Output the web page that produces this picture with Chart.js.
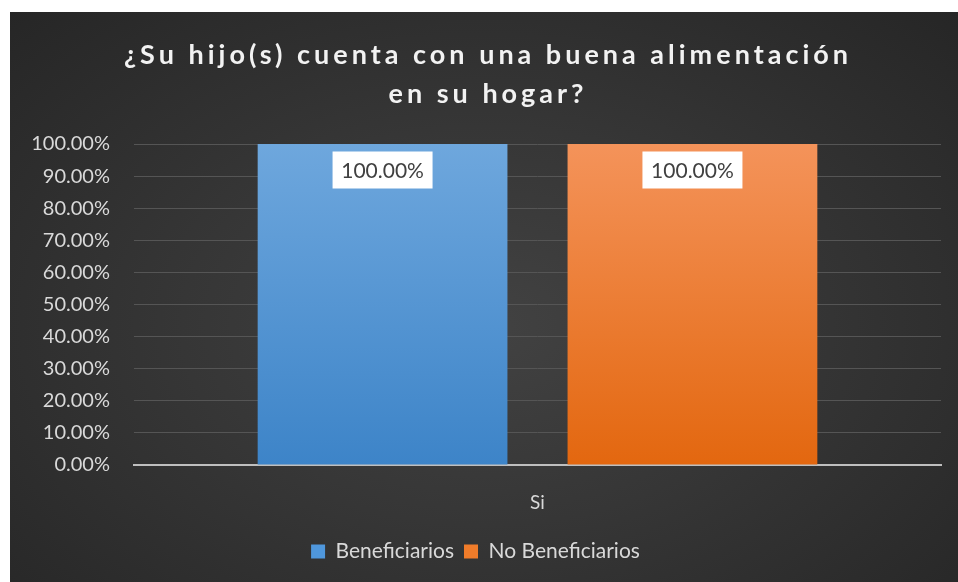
<!DOCTYPE html>
<html>
<head>
<meta charset="utf-8">
<script src="https://cdn.jsdelivr.net/npm/chart.js@4"></script>
<style>
  html,body{margin:0;padding:0;background:#fff;}
  #wrap{
    position:absolute; left:10px; top:12px; width:948px; height:570px;
    background: radial-gradient(ellipse at 50% 55%, #424242 0%, #363636 45%, #262626 100%);
  }
  #title{
    position:absolute; left:4px; top:22px; width:100%;
    text-align:center; color:#f2f2f2;
    font:700 27px "Lato", sans-serif; letter-spacing:4px; line-height:39px;
  }
  canvas{position:absolute; left:0; top:0;}
</style>
</head>
<body>
<div id="wrap">
  <canvas id="c" width="948" height="570"></canvas>
  <div id="title">¿Su hijo(s) cuenta con una buena alimentación<br>en su hogar?</div>
</div>
<script>
const categories = ["Si"];
const seriesNames = ["Beneficiarios", "No Beneficiarios"];
const beneficiarios = [100];
const noBeneficiarios = [100];
const yTicks = [0,10,20,30,40,50,60,70,80,90,100];

// gradient fill for bars, top -> bottom
function grad(top, bottom){
  return (ctx)=>{
    const area = ctx.chart.chartArea;
    if(!area) return bottom;
    const g = ctx.chart.ctx.createLinearGradient(0, area.top, 0, area.bottom);
    g.addColorStop(0, top);
    g.addColorStop(1, bottom);
    return g;
  };
}

// white boxed data labels near top of each bar
const boxLabels = {
  id:"boxLabels",
  afterDatasetsDraw(chart){
    const c = chart.ctx;
    c.save();
    c.font = '21px "Lato", sans-serif';
    c.textAlign = "center";
    c.textBaseline = "middle";
    chart.data.datasets.forEach((ds,i)=>{
      chart.getDatasetMeta(i).data.forEach((bar,j)=>{
        const txt = ds.data[j].toFixed(2) + "%";
        const cx = bar.x, cy = bar.y + 26;
        c.fillStyle = "#ffffff";
        c.fillRect(cx-50, cy-18.5, 100, 37);
        c.fillStyle = "#404040";
        c.fillText(txt, cx, cy+1);
      });
    });
    c.restore();
  }
};

new Chart(document.getElementById("c"), {
  type:"bar",
  data:{
    labels:categories,
    datasets:[
      { label:seriesNames[0], data:beneficiarios, backgroundColor:grad("#6ea7dd","#3d84c8"),
        categoryPercentage:0.768, barPercentage:0.806 },
      { label:seriesNames[1], data:noBeneficiarios, backgroundColor:grad("#f4935a","#e3670f"),
        categoryPercentage:0.768, barPercentage:0.806 }
    ]
  },
  options:{
    responsive:false,
    animation:false,
    layout:{ padding:{ top:132, right:17, bottom:10, left:0 } },
    plugins:{
      title:{ display:false },
      tooltip:{ enabled:false },
      legend:{
        position:"bottom",
        labels:{
          color:"#d9d9d9", font:{ family:"Lato", size:21 },
          boxWidth:14, boxHeight:14, padding:10,
          generateLabels(chart){
            return chart.data.datasets.map((ds,i)=>({
              text:ds.label,
              fillStyle: i===0 ? "#4f97dc" : "#f07c2a",
              strokeStyle:"rgba(0,0,0,0)", lineWidth:0, datasetIndex:i, fontColor:"#d9d9d9"
            }));
          }
        }
      }
    },
    scales:{
      x:{
        grid:{ display:false, drawTicks:false },
        border:{ display:true, color:"#bfbfbf", width:2 },
        ticks:{ color:"#d9d9d9", font:{ family:"Lato", size:19 }, padding:26 },
        afterFit(s){ s.height = 66; }
      },
      y:{
        min:0, max:100,
        afterBuildTicks(s){ s.ticks = yTicks.map(v=>({value:v})); },
        grid:{ color:"#555555", lineWidth:1, drawTicks:false },
        border:{ display:false },
        ticks:{
          color:"#d9d9d9", font:{ family:"Lato", size:20 }, padding:24,
          callback:(v)=>Number(v).toFixed(2)+"%"
        },
        afterFit(s){ s.width = 124; }
      }
    }
  },
  plugins:[boxLabels]
});
</script>
</body>
</html>
